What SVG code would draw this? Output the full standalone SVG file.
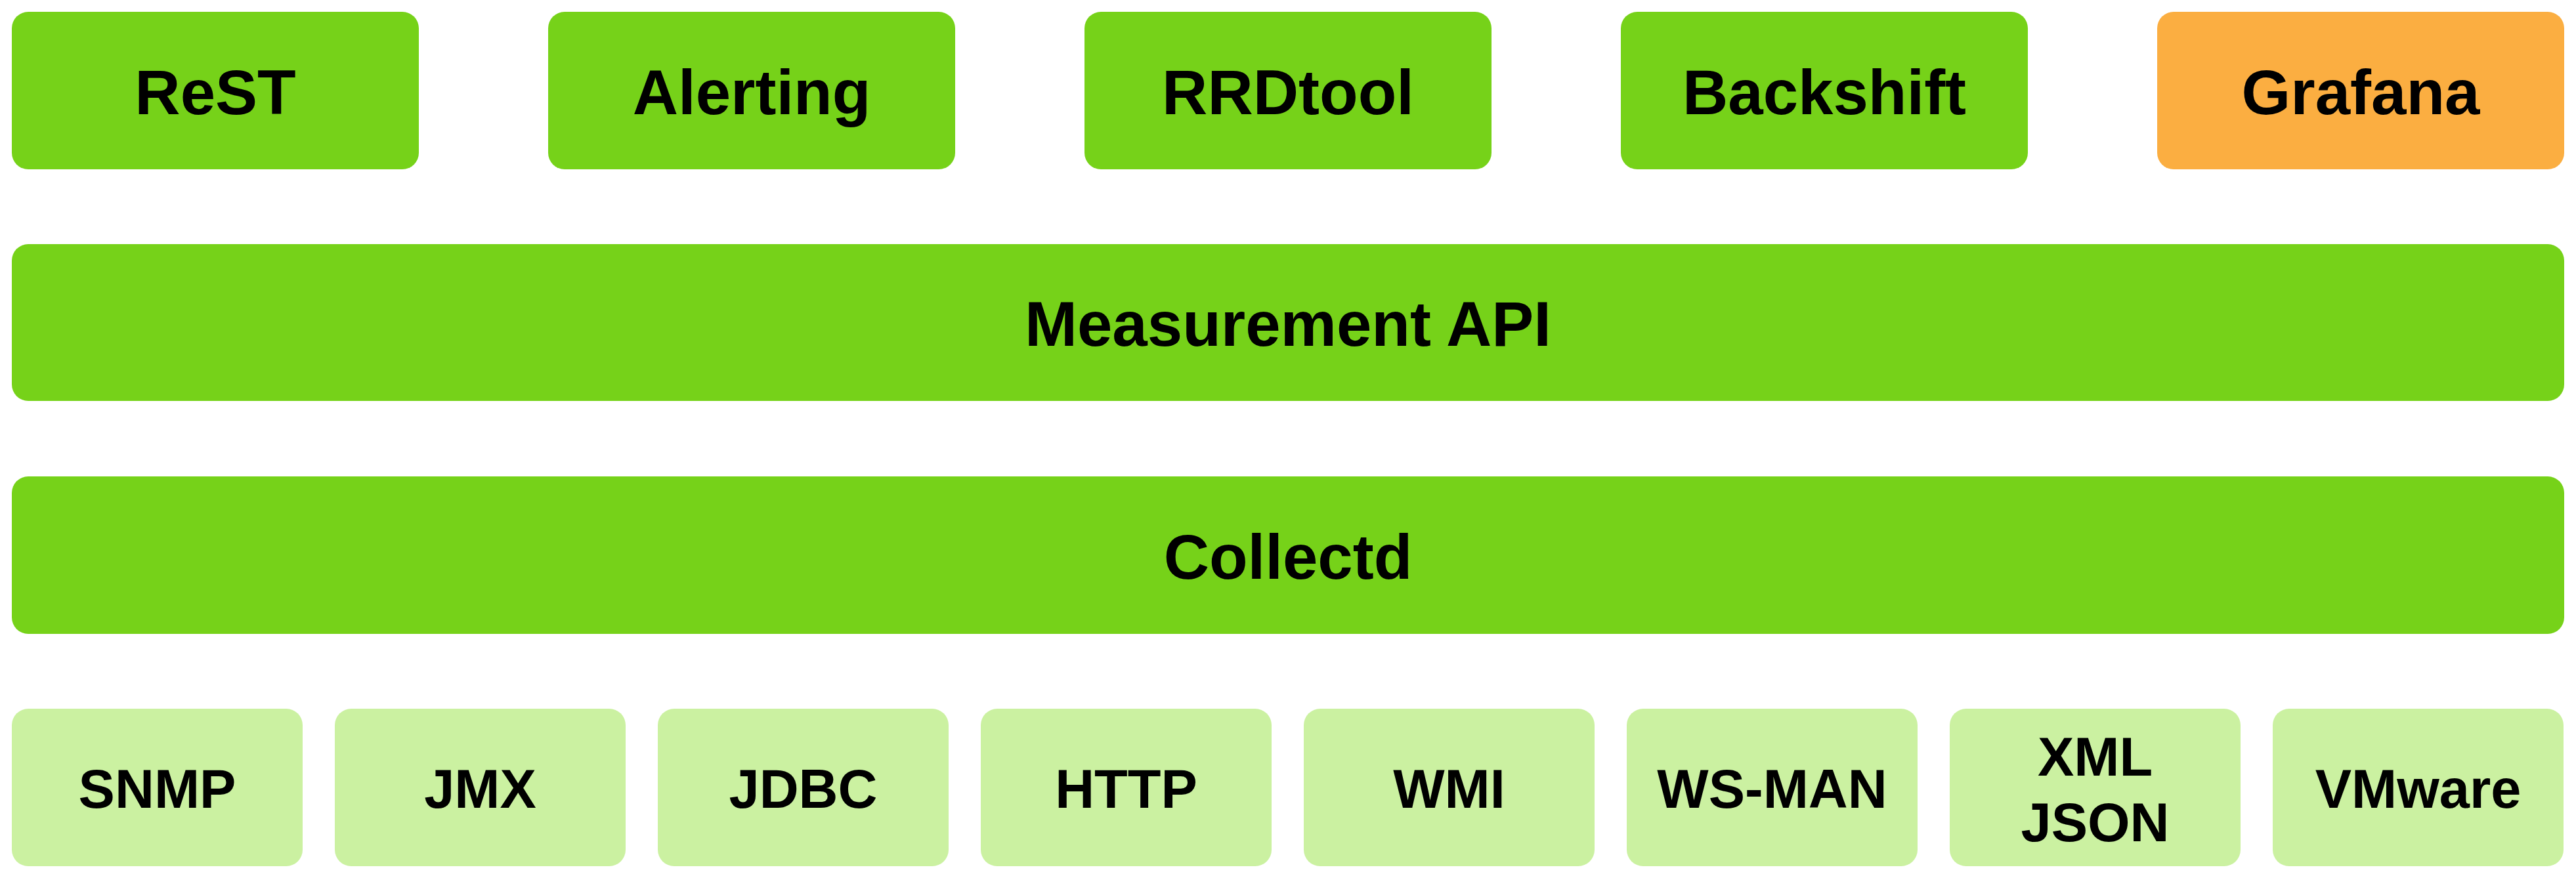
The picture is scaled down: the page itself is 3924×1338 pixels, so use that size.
<svg xmlns="http://www.w3.org/2000/svg" width="3924" height="1338" viewBox="0 0 3924 1338">
<style>
.g{fill:#76D219}
.o{fill:#FBAE41}
.l{fill:#CBF1A1}
.t{font-family:"Liberation Sans",Arial,Helvetica,sans-serif;font-weight:bold;fill:#000;text-anchor:middle}
.big{font-size:96px}
.sm{font-size:83px}
</style>
<rect width="3924" height="1338" fill="#fff"/>
<g id="connectors"></g>
<g id="rest"><rect class="g" x="18" y="18" width="620" height="240" rx="25"/><text class="t big" x="328" y="174">ReST</text></g>
<g id="alerting"><rect class="g" x="835" y="18" width="620" height="240" rx="25"/><text class="t big" x="1145" y="174">Alerting</text></g>
<g id="rrdtool"><rect class="g" x="1652" y="18" width="620" height="240" rx="25"/><text class="t big" x="1962" y="174">RRDtool</text></g>
<g id="backshift"><rect class="g" x="2469" y="18" width="620" height="240" rx="25"/><text class="t big" x="2779" y="174">Backshift</text></g>
<g id="grafana"><rect class="o" x="3286" y="18" width="620" height="240" rx="25"/><text class="t big" x="3596" y="174">Grafana</text></g>
<g id="measurement-api"><rect class="g" x="18" y="372" width="3888" height="239" rx="25"/><text class="t big" x="1962" y="527">Measurement API</text></g>
<g id="collectd"><rect class="g" x="18" y="726" width="3888" height="240" rx="25"/><text class="t big" x="1962" y="882">Collectd</text></g>
<g id="snmp"><rect class="l" x="18" y="1080" width="443" height="240" rx="25"/><text class="t sm" x="239.5" y="1231">SNMP</text></g>
<g id="jmx"><rect class="l" x="510" y="1080" width="443" height="240" rx="25"/><text class="t sm" x="731.5" y="1231">JMX</text></g>
<g id="jdbc"><rect class="l" x="1002" y="1080" width="443" height="240" rx="25"/><text class="t sm" x="1223.5" y="1231">JDBC</text></g>
<g id="http"><rect class="l" x="1494" y="1080" width="443" height="240" rx="25"/><text class="t sm" x="1715.5" y="1231">HTTP</text></g>
<g id="wmi"><rect class="l" x="1986" y="1080" width="443" height="240" rx="25"/><text class="t sm" x="2207.5" y="1231">WMI</text></g>
<g id="ws-man"><rect class="l" x="2478" y="1080" width="443" height="240" rx="25"/><text class="t sm" x="2699.5" y="1231">WS-MAN</text></g>
<g id="xml-json"><rect class="l" x="2970" y="1080" width="443" height="240" rx="25"/><text class="t sm" x="3191.5" y="1182">XML</text><text class="t sm" x="3191.5" y="1282">JSON</text></g>
<g id="vmware"><rect class="l" x="3462" y="1080" width="443" height="240" rx="25"/><text class="t sm" x="3683.5" y="1231">VMware</text></g>
</svg>
